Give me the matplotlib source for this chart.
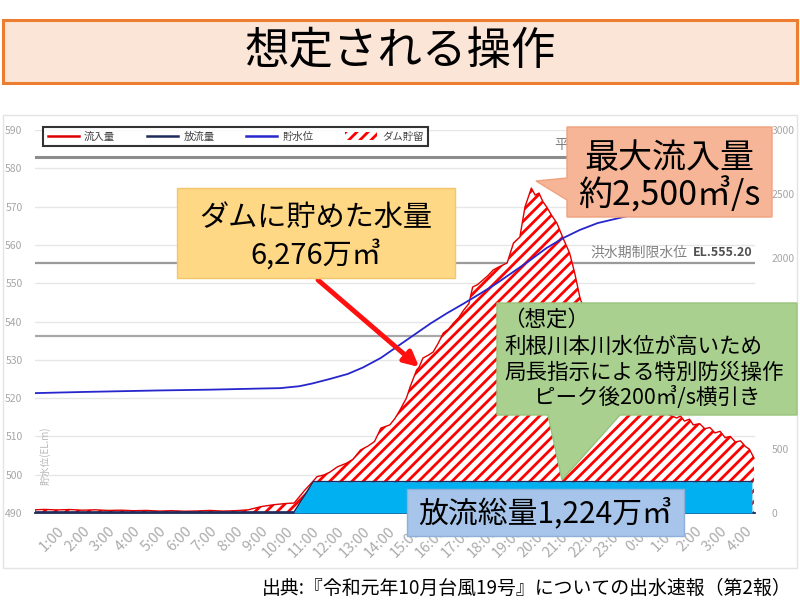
import matplotlib.pyplot as plt
from matplotlib.patches import Rectangle, Polygon, Patch
from matplotlib.lines import Line2D

plt.rcParams['font.family'] = ['Noto Sans CJK JP', 'DejaVu Sans']
plt.rcParams['hatch.linewidth'] = 2.0

W, H = 800, 616

# time axis: hours counted from 0:00 of the first day
inflow_t = [0.14, 0.5, 1.0, 1.5, 2.0, 2.5, 3.0, 3.5, 4.0, 4.5, 5.0, 5.5, 6.0, 6.5,
            7.0, 7.5, 8.0, 8.5, 9.0, 9.5, 10.0, 10.3, 10.7, 11.0, 11.2, 11.45, 11.7,
            12.0, 12.35, 12.6, 12.9, 13.2, 13.45, 13.7, 14.05, 14.25, 14.45, 14.7,
            14.85, 15.1, 15.2, 15.35, 15.55, 15.75, 15.95, 16.15, 16.35, 16.55, 16.75,
            16.95, 17.15, 17.3, 17.5, 17.7, 17.9, 18.1, 18.35, 18.65, 18.9, 19.15,
            19.35, 19.6, 19.75, 19.9, 20.05, 20.2, 20.4, 20.6, 20.85, 21.1, 21.3,
            21.5, 21.8, 22.2, 22.6, 23.0, 23.5, 24.0, 24.5, 25.0, 25.3, 25.45, 25.6,
            25.8, 25.95, 26.2, 26.4, 26.6, 26.8, 27.0, 27.2, 27.4, 27.6, 27.8, 28.0,
            28.15, 28.33]
inflow = [25, 28, 24, 27, 22, 25, 20, 22, 18, 20, 15, 18, 14, 16,
          20, 15, 18, 25, 50, 65, 75, 78, 175, 240, 285, 297, 320,
          362, 390, 420, 493, 525, 560, 665, 690, 740, 807, 900,
          990, 1120, 1143, 1214, 1235, 1261, 1330, 1410, 1440, 1488, 1530,
          1590, 1640, 1770, 1790, 1825, 1860, 1903, 1930, 1958, 2115, 2162,
          2397, 2545, 2490, 2506, 2440, 2397, 2330, 2271, 2150, 2036, 1880,
          1692, 1500, 1320, 1180, 1060, 950, 870, 810, 770, 744, 760, 720,
          735, 690, 700, 660, 670, 627, 640, 590, 600, 556, 565, 520,
          500, 430]

outflow_t = [0.14, 10.3, 11.05, 28.25]
outflow = [8, 8, 245, 245]

level_t = [0.14, 2.0, 3.5, 5.0, 7.0, 9.0, 9.75, 10.5, 11.0, 11.7, 12.4, 13.0, 13.7,
           14.35, 15.0, 15.65, 16.3, 16.9, 17.6, 18.25, 18.9, 19.55, 20.2, 20.85,
           21.5, 22.2, 23.35, 24.5, 25.5, 26.5, 27.5, 28.33]
level = [521.3, 521.6, 521.8, 522.0, 522.2, 522.5, 522.6, 523.1, 523.8, 525.0, 526.3,
         528.0, 530.5, 533.5, 536.5, 539.5, 542.2, 544.5, 547.3, 550.0, 553.0, 556.0,
         559.2, 561.8, 563.9, 565.7, 567.5, 568.8, 569.8, 570.7, 571.4, 572.0]

hour_ticks = list(range(1, 29))
hour_labels = [f"{h % 24}:00" for h in hour_ticks]
level_ticks = list(range(490, 600, 10))
# 1000 and 1500 sit behind the green note in the picture
flow_ticks = [0, 500, 2000, 2500, 3000]

ref_levels = [583.0, 555.2, 536.3]
arrow_t, arrow_q = 15.2, 1143


def fp(x, y):
    # pixel position (from top-left) -> figure fraction
    return x / W, 1 - y / H


fig = plt.figure(figsize=(8, 6.16), dpi=100)

# title box
fig.add_artist(Rectangle(fp(3, 83), 794 / W, 63 / H, transform=fig.transFigure,
                         facecolor='#FBE5D6', edgecolor='#ED7D31', lw=2.2))
fig.text(*fp(400, 51), '想定される操作', fontsize=32, ha='center', va='center')

# light frame around the chart picture
fig.add_artist(Rectangle(fp(3, 568), 794 / W, 453 / H, transform=fig.transFigure,
                         facecolor='none', edgecolor='#E4E4E4', lw=1))

ax = fig.add_axes([35 / W, 1 - 513 / H, 720 / W, 383 / H])
ax.set_xlim(0.137, 28.37)
ax.set_ylim(490, 590)
ax.set_yticks(level_ticks)
ax.yaxis.grid(True, color='#E6E6E6', lw=1)
ax.set_axisbelow(True)
for s in ax.spines.values():
    s.set_visible(False)
ax.set_xticks(hour_ticks, hour_labels, rotation=45, ha='right', rotation_mode='anchor')
ax.tick_params(axis='x', length=0, pad=8, labelsize=10.5, labelcolor='#ABABAB')
ax.tick_params(axis='y', length=0, pad=9, labelsize=7.5, labelcolor='#A6A6A6')

ax.axhline(ref_levels[0], color='#8C8C8C', lw=2.2)
ax.axhline(ref_levels[1], color='#9A9A9A', lw=1.6)
ax.axhline(ref_levels[2], color='#A8A8A8', lw=1.6)
yt = ax.get_yaxis_transform()
ax.text(0.721, ref_levels[0] + 1.2, '平', transform=yt, fontsize=10,
        color='#808080', va='bottom')
ax.text(0.771, ref_levels[1] + 1.0, '洪水期制限水位', transform=yt, fontsize=10,
        color='#808080', va='bottom')
ax.text(0.997, ref_levels[1] + 1.0, 'EL.555.20', transform=yt, fontsize=9,
        color='#505050', va='bottom', ha='right', fontweight='bold')
ax.text(0.014, 0.15, '貯水位(EL.m)', transform=ax.transAxes, rotation=90,
        fontsize=7, color='#B8B8B8', ha='center', va='center')

# flows on the right axis
ax2 = ax.twinx()
ax2.set_ylim(0, 3000)
ax2.set_yticks(flow_ticks)
ax2.tick_params(axis='y', length=0, pad=12, labelsize=7.5, labelcolor='#A6A6A6')
for k, s in ax2.spines.items():
    s.set_visible(k == 'bottom')
ax2.spines['bottom'].set_color('#1F2A5C')
ax2.spines['bottom'].set_linewidth(1.3)
ax2.fill_between(inflow_t, 0, inflow, facecolor='white', edgecolor='#FF0000',
                 hatch='///', linewidth=0, zorder=1)
ax2.plot(inflow_t, inflow, color='#E00000', lw=1.0, zorder=2)
ax2.plot(outflow_t, outflow, color='#1F2A5C', lw=1.2, zorder=2)
ax2.fill_between(outflow_t[1:], 0, outflow[1:], color='#00B0F0', lw=0, zorder=3)

# water level drawn on top
ax3 = fig.add_axes(ax.get_position(), sharex=ax, sharey=ax)
ax3.axis('off')
ax3.plot(level_t, level, color='#2626CC', lw=1.3)

handles = [Line2D([], [], color='#E00000', lw=1.8),
           Line2D([], [], color='#1F2A5C', lw=1.8),
           Line2D([], [], color='#2626CC', lw=1.8),
           Patch(facecolor='white', edgecolor='#FF0000', hatch='///', lw=0)]
leg = ax3.legend(handles, ['流入量', '放流量', '貯水位', 'ダム貯留'], ncol=4,
                 loc='upper left', bbox_to_anchor=(0.011, 0.945, 0.535, 0.063),
                 mode='expand', fontsize=7.5, frameon=True, fancybox=False,
                 borderaxespad=0, handlelength=3.0, handletextpad=0.5,
                 borderpad=0.45, labelcolor='#404040')
leg.get_frame().set_edgecolor('black')
leg.get_frame().set_linewidth(1.5)

# red arrow to the rising limb
ax3.annotate('', xy=(arrow_t, arrow_q), xycoords=ax2.transData,
             xytext=(318, H - 280), textcoords='figure pixels',
             arrowprops=dict(arrowstyle='-|>', color='#FF1010', lw=3.5,
                             mutation_scale=22, shrinkA=0, shrinkB=0))


# callout boxes
def callout(pts, fc, ec):
    fig.add_artist(Polygon([fp(x, y) for x, y in pts], closed=True,
                           transform=fig.transFigure, facecolor=fc, edgecolor=ec, lw=1))


callout([(177, 188), (455, 188), (455, 278), (177, 278)], '#FFD886', '#F3C66B')
fig.text(*fp(316, 218), 'ダムに貯めた水量', fontsize=21, ha='center', va='center')
fig.text(*fp(316, 255), '6,276万㎥', fontsize=21, ha='center', va='center')

callout([(567, 127), (772, 127), (772, 217), (567, 217), (567, 200), (536, 181),
         (567, 178)], '#F6B596', '#F0A27F')
fig.text(*fp(669, 158), '最大流入量', fontsize=24.5, ha='center', va='center')
fig.text(*fp(669, 195), '約2,500㎥/s', fontsize=24.5, ha='center', va='center')

callout([(497, 303), (797, 303), (797, 415), (620, 415), (562, 480), (548, 415),
         (497, 415)], '#A9D08E', '#98C27C')
fig.text(*fp(503, 320), '（想定）', fontsize=15.5, va='center')
fig.text(*fp(504, 347), '利根川本川水位が高いため', fontsize=15.5, va='center')
fig.text(*fp(504, 373), '局長指示による特別防災操作', fontsize=15.5, va='center')
fig.text(*fp(647, 398), 'ピーク後200㎥/s横引き', fontsize=15.5, ha='center', va='center')

callout([(407, 489), (684, 489), (684, 536), (407, 536)], '#A7C5EA', '#8DAFDA')
fig.text(*fp(545, 513), '放流総量1,224万㎥', fontsize=21.5, ha='center', va='center')

fig.text(*fp(792, 588), '出典:『令和元年10月台風19号』についての出水速報（第2報）',
         fontsize=13.6, ha='right', va='center')

fig.savefig('out.png', dpi=100)
